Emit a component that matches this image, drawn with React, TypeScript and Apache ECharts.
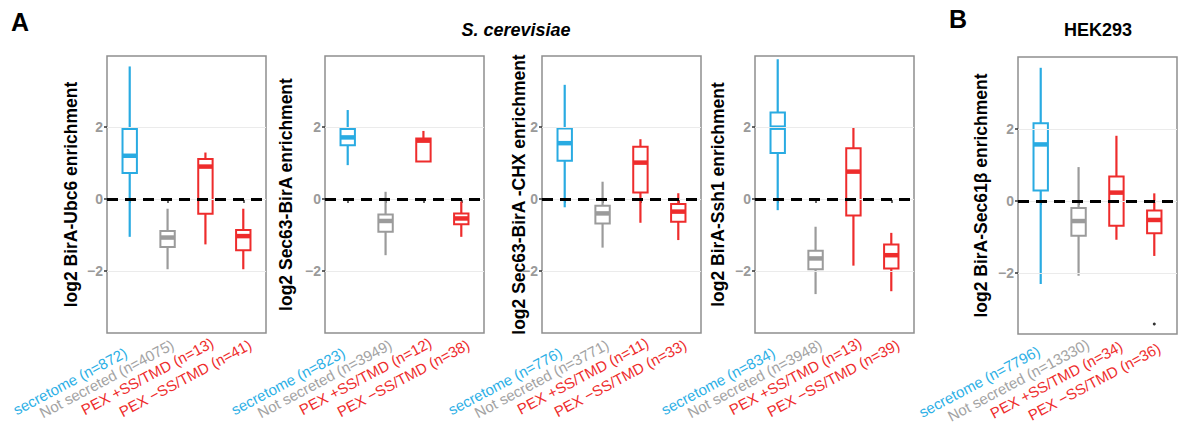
import React, { useEffect, useRef } from "react";
import * as echarts from "echarts";

// Group names shared by every panel (x-axis order)
const groups = ["secretome", "Not secreted", "PEX +SS/TMD", "PEX \u2212SS/TMD"];
const groupColors = ["#29abe2", "#9b9b9b", "#ee2c2c", "#ee2c2c"];
const labelColors = ["#2db0e6", "#a3a3a3", "#ee2c2c", "#ee2c2c"];

// Box statistics per group: [lower whisker, Q1, median, Q3, upper whisker]
const ubc6Counts = [872, 4075, 13, 41];
const ubc6Stats = [
  [-1.05, 0.72, 1.2, 1.94, 3.68],
  [-1.95, -1.33, -1.07, -0.89, -0.27],
  [-1.26, -0.41, 0.9, 1.11, 1.29],
  [-1.95, -1.42, -1.03, -0.86, -0.27],
];

const sec63Counts = [823, 3949, 12, 38];
const sec63Stats = [
  [0.94, 1.49, 1.71, 1.94, 2.47],
  [-1.56, -0.91, -0.61, -0.43, 0.2],
  [1.03, 1.04, 1.62, 1.68, 1.89],
  [-1.05, -0.7, -0.54, -0.4, -0.07],
];

const sec63ChxCounts = [776, 3771, 11, 33];
const sec63ChxStats = [
  [-0.23, 1.06, 1.55, 1.96, 3.17],
  [-1.35, -0.68, -0.4, -0.19, 0.48],
  [-0.66, 0.18, 1.01, 1.45, 1.66],
  [-1.14, -0.63, -0.35, -0.14, 0.16],
];

const ssh1Counts = [834, 3948, 13, 39];
const ssh1Stats = [
  [-0.31, 1.28, 1.98, 2.4, 3.88],
  [-2.64, -1.95, -1.65, -1.44, -0.77],
  [-1.85, -0.46, 0.76, 1.41, 1.99],
  [-2.56, -1.93, -1.56, -1.26, -0.94],
];

const sec61bCounts = [7796, 13330, 34, 36];
const sec61bStats = [
  [-2.31, 0.29, 1.57, 2.16, 3.7],
  [-2.08, -0.97, -0.56, -0.2, 0.94],
  [-1.08, -0.69, 0.23, 0.68, 1.81],
  [-1.53, -0.9, -0.53, -0.27, 0.21],
];
// Outliers in HEK293: [group position, value]
const sec61bOutliers = [[4, -3.42]];

const yTicks = [-2, 0, 2];
const FONT = "'Liberation Sans', Arial, Helvetica, sans-serif";

// placement of the slanted group labels: offset of each label's right end
// from its tick and from the panel's bottom edge (px), and the slant angle
const yeastLabelDx = [-4, 5, 7, 7];
const yeastLabelDy = [18.5, 10.5, 8.5, 10.5];
const hekLabelDx = [-2, 9.5, 5, 5];
const hekLabelDy = [16, 9, 11, 13];
const LABEL_ANGLE = (28 * Math.PI) / 180;

type Panel = {
  yName: string;
  counts: number[];
  stats: number[][];
  outliers: number[][];
  left: number;
  top: number;
  height: number;
  yMin: number;
  yMax: number;
  nameGap: number;
  xTicks: number[];
  labelDx: number[];
  labelDy: number[];
};

const panels: Panel[] = [
  { yName: "log2 BirA-Ubc6 enrichment", counts: ubc6Counts, stats: ubc6Stats, outliers: [], left: 107, top: 56, height: 277, yMin: -3.72, yMax: 3.97, nameGap: 27, xTicks: [1, 2, 3, 4], labelDx: yeastLabelDx, labelDy: yeastLabelDy },
  { yName: "log2 Sec63-BirA enrichment", counts: sec63Counts, stats: sec63Stats, outliers: [], left: 325, top: 56, height: 277, yMin: -3.72, yMax: 3.97, nameGap: 30, xTicks: [1, 2, 3, 4], labelDx: yeastLabelDx, labelDy: yeastLabelDy },
  { yName: "log2 Sec63-BirA -CHX enrichment", counts: sec63ChxCounts, stats: sec63ChxStats, outliers: [], left: 542, top: 56, height: 277, yMin: -3.72, yMax: 3.97, nameGap: 14, xTicks: [1, 2, 3, 4], labelDx: yeastLabelDx, labelDy: yeastLabelDy },
  { yName: "log2 BirA-Ssh1 enrichment", counts: ssh1Counts, stats: ssh1Stats, outliers: [], left: 755, top: 56, height: 277, yMin: -3.72, yMax: 3.97, nameGap: 28, xTicks: [1, 2, 3, 4], labelDx: yeastLabelDx, labelDy: yeastLabelDy },
  { yName: "log2 BirA-Sec61\u03b2 enrichment", counts: sec61bCounts, stats: sec61bStats, outliers: sec61bOutliers, left: 1018, top: 57, height: 277, yMin: -3.7, yMax: 4.0, nameGap: 28, xTicks: [1, 2, 3], labelDx: hekLabelDx, labelDy: hekLabelDy },
];

const PANEL_WIDTH = 159;
const BOX_HALF = 0.19;

function renderBox(params: any, api: any) {
  const x = api.value(0);
  const lo = api.value(1);
  const q1 = api.value(2);
  const med = api.value(3);
  const q3 = api.value(4);
  const hi = api.value(5);
  const color = groupColors[params.dataIndex];
  const tl = api.coord([x - BOX_HALF, q3]);
  const br = api.coord([x + BOX_HALF, q1]);
  const top = api.coord([x, hi]);
  const bot = api.coord([x, lo]);
  const mL = api.coord([x - BOX_HALF, med]);
  const mR = api.coord([x + BOX_HALF, med]);
  const lineStyle = { stroke: color, lineWidth: 2.2, lineCap: "butt" };
  return {
    type: "group",
    children: [
      { type: "line", shape: { x1: top[0], y1: top[1], x2: top[0], y2: tl[1] }, style: lineStyle },
      { type: "line", shape: { x1: bot[0], y1: br[1], x2: bot[0], y2: bot[1] }, style: lineStyle },
      {
        type: "rect",
        shape: { x: tl[0], y: tl[1], width: br[0] - tl[0], height: br[1] - tl[1] },
        style: { fill: "#ffffff", stroke: color, lineWidth: 2 },
      },
      { type: "line", shape: { x1: mL[0], y1: mL[1], x2: mR[0], y2: mR[1] }, style: { stroke: color, lineWidth: 4.5 } },
    ],
  };
}

const titleGraphics = [
  { type: "text", left: 11, top: 9, style: { text: "A", font: `bold 25px ${FONT}`, fill: "#000" } },
  { type: "text", left: 949, top: 6, style: { text: "B", font: `bold 25px ${FONT}`, fill: "#000" } },
  {
    type: "text",
    x: 516,
    y: 30,
    style: { text: "S. cerevisiae", font: `italic bold 18px ${FONT}`, fill: "#000", textAlign: "center", textVerticalAlign: "middle" },
  },
  {
    type: "text",
    x: 1098,
    y: 30,
    style: { text: "HEK293", font: `bold 18px ${FONT}`, fill: "#000", textAlign: "center", textVerticalAlign: "middle" },
  },
];

function buildOption() {
  const grid: any[] = [];
  const xAxis: any[] = [];
  const yAxis: any[] = [];
  const series: any[] = [];

  panels.forEach((p, i) => {
    grid.push({
      left: p.left,
      top: p.top,
      width: PANEL_WIDTH,
      height: p.height,
      show: true,
      borderColor: "#8f8f8f",
      borderWidth: 1.5,
      backgroundColor: "transparent",
      containLabel: false,
      outerBoundsMode: "none",
    });
    xAxis.push({
      type: "value",
      gridIndex: i,
      min: 0.4,
      max: 4.6,
      axisLine: { show: false },
      splitLine: { show: false },
      axisTick: { show: true, customValues: p.xTicks, length: 4, lineStyle: { color: "#333", width: 1.5 } },
      axisLabel: { show: false },
    });
    yAxis.push({
      type: "value",
      gridIndex: i,
      min: p.yMin,
      max: p.yMax,
      axisLine: { show: false },
      splitLine: { show: false },
      axisTick: { show: true, customValues: yTicks, length: 3, lineStyle: { color: "#333", width: 1.5 } },
      axisLabel: {
        customValues: yTicks,
        margin: 4,
        color: "#9a9a9a",
        fontSize: 14,
        fontWeight: "bold",
        fontFamily: FONT,
        formatter: (v: number) => (v < 0 ? "\u2212" + Math.abs(v) : String(v)),
      },
      name: p.yName,
      nameLocation: "middle",
      nameGap: p.nameGap,
      nameMoveOverlap: false,
      nameTextStyle: { fontSize: 17.5, fontWeight: "bold", color: "#000", fontFamily: FONT },
    });

    // light horizontal grid lines
    series.push({
      type: "line",
      xAxisIndex: i,
      yAxisIndex: i,
      data: [[1, 0]],
      showSymbol: false,
      lineStyle: { width: 0 },
      silent: true,
      z: 1,
      markLine: {
        silent: true,
        symbol: ["none", "none"],
        label: { show: false },
        lineStyle: { color: "#ebebeb", width: 1.2, type: "solid" },
        data: yTicks.map((t) => ({ yAxis: t })),
      },
    });

    // box plots
    series.push({
      type: "custom",
      xAxisIndex: i,
      yAxisIndex: i,
      z: 2,
      renderItem: renderBox,
      encode: { x: 0, y: [1, 2, 3, 4, 5] },
      data: p.stats.map((s, k) => [k + 1, ...s]),
    });

    if (p.outliers.length) {
      series.push({
        type: "scatter",
        xAxisIndex: i,
        yAxisIndex: i,
        z: 3,
        symbolSize: 3,
        itemStyle: { color: "#000" },
        data: p.outliers,
      });
    }

    // dashed reference line at zero
    series.push({
      type: "line",
      xAxisIndex: i,
      yAxisIndex: i,
      data: [[1, 0]],
      showSymbol: false,
      lineStyle: { width: 0 },
      silent: true,
      z: 4,
      markLine: {
        silent: true,
        symbol: ["none", "none"],
        label: { show: false },
        lineStyle: { color: "#000", width: 3, type: [11, 7] },
        data: [{ yAxis: 0 }],
      },
    });
  });

  return {
    animation: false,
    backgroundColor: "#ffffff",
    textStyle: { fontFamily: FONT },
    grid,
    xAxis,
    yAxis,
    series,
    graphic: titleGraphics,
  };
}

// Slanted group labels, anchored at each x tick through the axis scale
function buildGroupLabels(chart: echarts.ECharts) {
  const out: any[] = [];
  panels.forEach((p, i) => {
    const bottom = p.top + p.height;
    groups.forEach((g, k) => {
      const px = chart.convertToPixel({ xAxisIndex: i } as any, k + 1) as unknown as number;
      out.push({
        type: "text",
        x: px + p.labelDx[k],
        y: bottom + p.labelDy[k],
        rotation: LABEL_ANGLE,
        style: {
          text: `${g} (n=${p.counts[k]})`,
          font: `15px ${FONT}`,
          fill: labelColors[k],
          textAlign: "right",
          textVerticalAlign: "middle",
        },
      });
    });
  });
  return out;
}

export default function App() {
  const ref = useRef<HTMLDivElement>(null);
  useEffect(() => {
    if (!ref.current) return;
    const chart = echarts.init(ref.current, undefined, { renderer: "svg" });
    chart.setOption(buildOption() as any);
    chart.setOption({ graphic: [...titleGraphics, ...buildGroupLabels(chart)] } as any);
    return () => chart.dispose();
  }, []);
  return <div ref={ref} style={{ position: "absolute", left: 0, top: 0, width: 1178, height: 422 }} />;
}
